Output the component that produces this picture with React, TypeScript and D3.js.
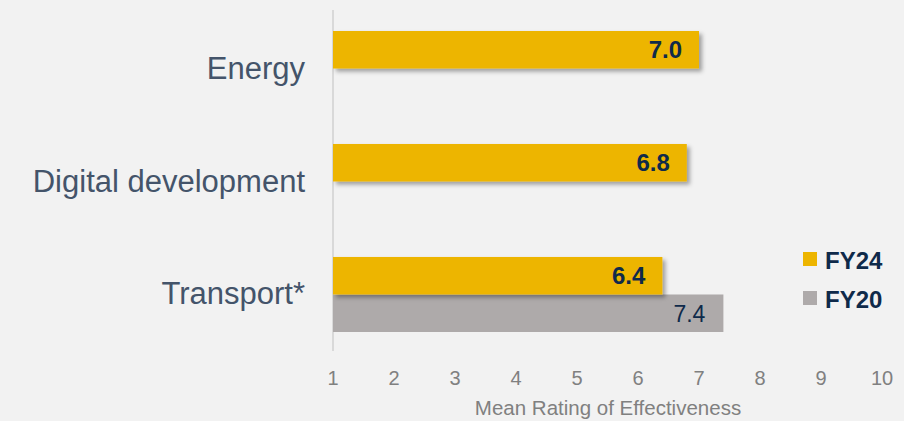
import * as d3 from "d3";
import { useEffect, useRef } from "react";

const categories = ["Energy", "Digital development", "Transport*"];
const series = ["FY24", "FY20"];
const fy24 = [7.0, 6.8, 6.4];
const fy20: (number | null)[] = [null, null, 7.4];
const ticks = [1, 2, 3, 4, 5, 6, 7, 8, 9, 10];

const colors: Record<string, string> = { FY24: "#edb500", FY20: "#aeaaaa" };
const font = "Liberation Sans, Arial, sans-serif";

export default function App() {
  const ref = useRef(null);
  const width = 904;
  const height = 421;

  useEffect(() => {
    draw();
  });

  function draw() {
    const svg = d3.select(ref.current);
    // clean the slate
    svg.selectAll("*").remove();
    svg.attr("width", width).attr("height", height);

    svg
      .append("rect")
      .attr("width", width)
      .attr("height", height)
      .attr("fill", "#f2f2f2");

    // shadow used under the FY24 bars
    const defs = svg.append("defs");
    const filter = defs
      .append("filter")
      .attr("id", "shadow")
      .attr("x", "-10%")
      .attr("y", "-30%")
      .attr("width", "130%")
      .attr("height", "180%");
    filter
      .append("feDropShadow")
      .attr("dx", 3)
      .attr("dy", 3)
      .attr("stdDeviation", 2)
      .attr("flood-color", "#000")
      .attr("flood-opacity", 0.35);

    const x = d3.scaleLinear().domain([1, 10]).range([333, 882]);
    const y = d3
      .scaleBand()
      .domain(categories)
      .range([31, 332])
      .paddingInner(0.336)
      .paddingOuter(0);
    const ySub = d3.scaleBand().domain(series).range([0, y.bandwidth()]);

    // axis line
    svg
      .append("line")
      .attr("x1", x(1))
      .attr("x2", x(1))
      .attr("y1", 10)
      .attr("y2", 351)
      .attr("stroke", "#d9d9d9")
      .attr("stroke-width", 2);

    // tick labels
    svg
      .append("g")
      .selectAll("text")
      .data(ticks)
      .enter()
      .append("text")
      .attr("x", (d) => x(d))
      .attr("y", 385)
      .attr("text-anchor", "middle")
      .attr("font-family", font)
      .attr("font-size", 20)
      .attr("fill", "#808080")
      .text((d) => d);

    svg
      .append("text")
      .attr("x", 608)
      .attr("y", 415)
      .attr("text-anchor", "middle")
      .attr("font-family", font)
      .attr("font-size", 20.5)
      .attr("fill", "#808080")
      .text("Mean Rating of Effectiveness");

    // category labels
    svg
      .append("g")
      .selectAll("text")
      .data(categories)
      .enter()
      .append("text")
      .attr("x", 305)
      .attr("y", (d) => (y(d) as number) + y.bandwidth() / 2 + 10)
      .attr("text-anchor", "end")
      .attr("font-family", font)
      .attr("font-size", 31)
      .attr("fill", "#44546a")
      .text((d) => d);

    // FY20 bars
    const rows20 = categories
      .map((c, i) => ({ c, v: fy20[i] }))
      .filter((d) => d.v !== null) as { c: string; v: number }[];
    svg
      .append("g")
      .selectAll("rect")
      .data(rows20)
      .enter()
      .append("rect")
      .attr("x", x(1))
      .attr("y", (d) => (y(d.c) as number) + (ySub("FY20") as number))
      .attr("width", (d) => x(d.v) - x(1))
      .attr("height", ySub.bandwidth())
      .attr("fill", colors.FY20);
    svg
      .append("g")
      .selectAll("text")
      .data(rows20)
      .enter()
      .append("text")
      .attr("x", (d) => x(d.v) - 18)
      .attr("y", (d) => (y(d.c) as number) + (ySub("FY20") as number) + ySub.bandwidth() / 2 + 9)
      .attr("text-anchor", "end")
      .attr("font-family", font)
      .attr("font-size", 23)
      .attr("fill", "#0f2a4a")
      .text((d) => d.v.toFixed(1));

    // FY24 bars
    const rows24 = categories.map((c, i) => ({ c, v: fy24[i] }));
    svg
      .append("g")
      .selectAll("rect")
      .data(rows24)
      .enter()
      .append("rect")
      .attr("x", x(1))
      .attr("y", (d) => (y(d.c) as number) + (ySub("FY24") as number))
      .attr("width", (d) => x(d.v) - x(1))
      .attr("height", ySub.bandwidth())
      .attr("fill", colors.FY24)
      .attr("filter", "url(#shadow)");
    svg
      .append("g")
      .selectAll("text")
      .data(rows24)
      .enter()
      .append("text")
      .attr("x", (d) => x(d.v) - 17)
      .attr("y", (d) => (y(d.c) as number) + (ySub("FY24") as number) + ySub.bandwidth() / 2 + 8.5)
      .attr("text-anchor", "end")
      .attr("font-family", font)
      .attr("font-size", 24)
      .attr("font-weight", 700)
      .attr("fill", "#0f2a4a")
      .text((d) => d.v.toFixed(1));

    // legend
    const legend = svg
      .append("g")
      .selectAll("g")
      .data(series)
      .enter()
      .append("g")
      .attr("transform", (d, i) => "translate(803," + (252 + i * 39) + ")");
    legend
      .append("rect")
      .attr("width", 14)
      .attr("height", 14)
      .attr("fill", (d) => colors[d]);
    legend
      .append("text")
      .attr("x", 22)
      .attr("y", 17)
      .attr("font-family", font)
      .attr("font-size", 24)
      .attr("font-weight", 700)
      .attr("fill", "#0f2a4a")
      .text((d) => d);
  }

  return (
    <svg
      ref={ref}
      width={width}
      height={height}
      style={{ position: "absolute", left: 0, top: 0 }}
    ></svg>
  );
}
